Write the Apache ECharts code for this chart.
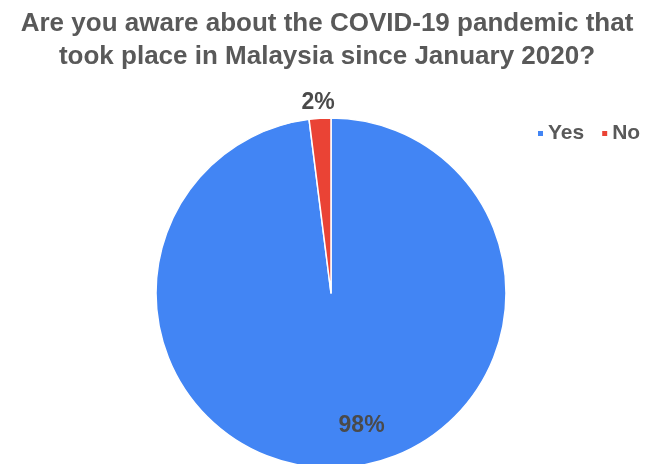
<!DOCTYPE html>
<html>
<head>
<meta charset="utf-8">
<script src="https://cdn.jsdelivr.net/npm/echarts@6/dist/echarts.min.js"></script>
<style>html,body{margin:0;padding:0;background:#fff;}#c{width:654px;height:464px;}</style>
</head>
<body>
<div id="c"></div>
<script>
var titleText = "Are you aware about the COVID-19 pandemic that\ntook place in Malaysia since January 2020?";
var categories = ["Yes", "No"];
var values = [98, 2];
var colors = ["#4285F4", "#EA4335"];

var chart = echarts.init(document.getElementById('c'), null, {renderer: 'canvas'});
var mainData = categories.map(function (c, i) {
  return {name: c, value: values[i], itemStyle: {color: colors[i]}};
});
function overlayData(showIdx) {
  return categories.map(function (c, i) {
    return {name: c, value: values[i], label: {show: i === showIdx}};
  });
}
var labelFont = {fontFamily: 'Liberation Sans, Arial', fontSize: 23, fontWeight: 'bold', color: '#4a4a4a'};
function overlay(radius, startAngle, showIdx) {
  return {
    type: 'pie', center: [331, 293], radius: radius, startAngle: startAngle, clockwise: true,
    silent: true,
    itemStyle: {color: 'rgba(0,0,0,0)', borderWidth: 0},
    label: Object.assign({position: 'inside', formatter: '{d}%'}, labelFont),
    labelLine: {show: false},
    emphasis: {disabled: true},
    data: overlayData(showIdx)
  };
}
chart.setOption({
  backgroundColor: '#ffffff',
  animation: false,
  title: {
    text: titleText, left: 'center', top: 2,
    textStyle: {fontFamily: 'Liberation Sans, Arial', fontSize: 26, fontWeight: 'bold', color: '#595959', lineHeight: 33}
  },
  legend: {
    data: categories, left: 536, top: 123, padding: 0,
    icon: 'rect', itemWidth: 7, itemHeight: 7, itemGap: 16,
    textStyle: {fontFamily: 'Liberation Sans, Arial', fontSize: 21, fontWeight: 'bold', color: '#595959', padding: [0, 0, 0, -1]}
  },
  series: [
    {
      type: 'pie', center: [331, 293], radius: [0, 175], startAngle: 90, clockwise: true,
      itemStyle: {borderColor: '#ffffff', borderWidth: 1.5},
      label: {show: false},
      labelLine: {show: false},
      emphasis: {disabled: true},
      data: mainData
    },
    overlay([91, 175], 99.4, 0),
    overlay([178, 198], 90.3, 1)
  ]
});
</script>
</body>
</html>
